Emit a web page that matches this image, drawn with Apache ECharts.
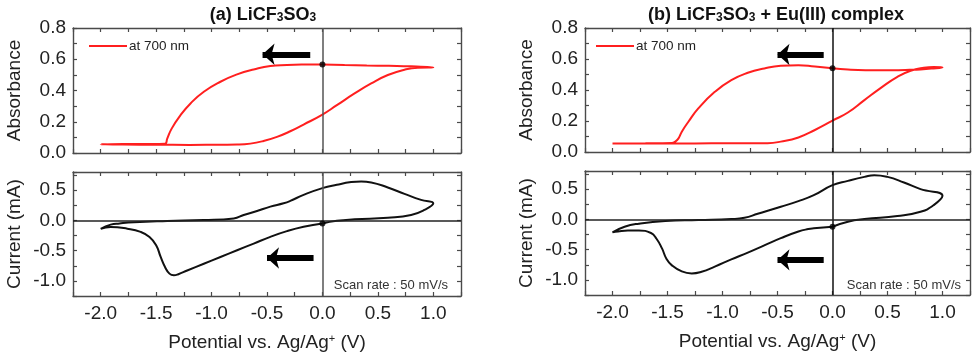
<!DOCTYPE html>
<html>
<head>
<meta charset="utf-8">
<script src="https://cdn.jsdelivr.net/npm/echarts@6.0.0/dist/echarts.min.js"></script>
<style>
  html, body { margin: 0; padding: 0; background: #fff; }
  #chart { width: 976px; height: 355px; }
</style>
</head>
<body>
<div id="chart"></div>
<script>
// (a) LiCF3SO3 - absorbance at 700 nm, scan starts at 0 V going negative
const potAbsA = [0, -0.17, -0.32, -0.47, -0.62, -0.77, -0.92, -1.07, -1.19, -1.28, -1.36, -1.40, -1.42, -1.6, -1.8, -2.0,
  -1.8, -1.5, -1.2, -0.9, -0.77, -0.65, -0.53, -0.41, -0.29, -0.17, 0, 0.13, 0.29, 0.44, 0.59, 0.74, 0.86, 1.0,
  0.8, 0.6, 0.4, 0.2, 0]
const absA = [0.567, 0.566, 0.563, 0.557, 0.535, 0.503, 0.456, 0.392, 0.317, 0.242, 0.156, 0.092, 0.060, 0.058, 0.057, 0.056,
  0.054, 0.053, 0.052, 0.053, 0.054, 0.060, 0.077, 0.103, 0.139, 0.182, 0.246, 0.306, 0.381, 0.445, 0.499, 0.533, 0.546, 0.548,
  0.555, 0.558, 0.560, 0.563, 0.567]

// (a) current
const potCurA = [0, -0.17, -0.32, -0.47, -0.62, -0.77, -0.92, -1.07, -1.22, -1.30, -1.34, -1.38, -1.42, -1.46, -1.50, -1.56, -1.64, -1.76, -1.91, -2.0,
  -1.91, -1.83, -1.7, -1.4, -1.07, -0.8, -0.71, -0.59, -0.47, -0.35, -0.29, -0.17, 0, 0.13, 0.26, 0.35, 0.44, 0.59, 0.74, 0.89, 1.0,
  0.92, 0.80, 0.59, 0.29, 0.13, 0]
const curA = [-0.05, -0.106, -0.178, -0.272, -0.383, -0.494, -0.606, -0.717, -0.828, -0.89, -0.907, -0.88, -0.77, -0.60, -0.41, -0.275, -0.19, -0.137, -0.11, -0.139,
  -0.07, -0.05, -0.03, -0.01, 0.005, 0.033, 0.089, 0.156, 0.228, 0.283, 0.322, 0.422, 0.533, 0.589, 0.633, 0.644, 0.628, 0.544, 0.439, 0.339, 0.283,
  0.172, 0.089, 0.044, 0.017, -0.006, -0.05]

// (b) LiCF3SO3 + Eu(III) complex - absorbance
const potAbsB = [0, -0.16, -0.31, -0.47, -0.62, -0.77, -0.92, -1.07, -1.22, -1.31, -1.37, -1.40, -1.43, -1.46, -1.7, -2.0,
  -1.7, -1.4, -1.1, -0.8, -0.59, -0.47, -0.31, -0.16, 0, 0.14, 0.29, 0.44, 0.59, 0.71, 0.83, 0.92, 1.0,
  0.9, 0.8, 0.7, 0.6, 0.45, 0.3, 0.14, 0]
const absB = [0.541, 0.551, 0.560, 0.556, 0.539, 0.511, 0.464, 0.388, 0.281, 0.195, 0.131, 0.088, 0.067, 0.058, 0.056, 0.055,
  0.055, 0.055, 0.056, 0.056, 0.057, 0.067, 0.094, 0.142, 0.202, 0.255, 0.335, 0.414, 0.485, 0.524, 0.543, 0.548, 0.545,
  0.538, 0.533, 0.530, 0.528, 0.528, 0.528, 0.532, 0.541]

// (b) current
const potCurB = [0, -0.17, -0.22, -0.31, -0.47, -0.62, -0.77, -0.92, -1.07, -1.19, -1.28, -1.37, -1.46, -1.51, -1.55, -1.60, -1.65, -1.76, -1.86, -1.95, -2.0,
  -1.89, -1.76, -1.52, -1.22, -0.92, -0.8, -0.68, -0.47, -0.31, -0.17, 0, 0.14, 0.29, 0.38, 0.5, 0.65, 0.8, 1.0,
  0.92, 0.8, 0.59, 0.29, 0.14, 0]
const curB = [-0.121, -0.148, -0.16, -0.2, -0.31, -0.43, -0.55, -0.66, -0.78, -0.865, -0.893, -0.86, -0.76, -0.65, -0.48, -0.32, -0.225, -0.185, -0.185, -0.2, -0.214,
  -0.121, -0.071, -0.027, -0.011, 0.005, 0.027, 0.093, 0.209, 0.302, 0.401, 0.566, 0.637, 0.703, 0.731, 0.703, 0.61, 0.5, 0.39,
  0.236, 0.126, 0.055, 0.005, -0.038, -0.121]

// scan direction arrows [x start, x end, y]
const arrowAbsA = [-0.11, -0.54, 0.632]
const arrowCurA = [-0.08, -0.50, -0.622]
const arrowAbsB = [-0.08, -0.50, 0.629]
const arrowCurB = [-0.08, -0.50, -0.67]

const FONT = "'Liberation Sans', Arial, sans-serif"
const frameColor = '#4a4a4a'

function stepFormatter(step) {
  return function (v) {
    if (Math.abs(v / step - Math.round(v / step)) > 1e-6) return ''
    if (Math.abs(v) < 1e-9) return '0.0'
    return v.toFixed(1)
  }
}

const grids = [
  { left: 73, top: 28, width: 388, height: 125 },
  { left: 73, top: 172, width: 388, height: 124 },
  { left: 585, top: 28, width: 385, height: 124 },
  { left: 585, top: 171, width: 385, height: 124 }
]

const xAxes = []
const yAxes = []
grids.forEach((g, i) => {
  const isCurrent = i % 2 === 1
  const common = {
    gridIndex: i,
    type: 'value',
    axisLine: { onZero: false, lineStyle: { color: frameColor, width: 1.4 } },
    axisTick: { inside: true, length: 4, lineStyle: { color: frameColor, width: 1.2 } },
    splitLine: { show: false }
  }
  const xc = Object.assign({}, common, { min: -2.25, max: 1.25, interval: 0.25 })
  xAxes.push(Object.assign({}, xc, {
    position: 'bottom',
    axisLabel: {
      show: isCurrent, margin: 8, fontSize: 19, fontFamily: FONT, color: '#222',
      formatter: stepFormatter(0.5)
    },
    name: isCurrent ? 'Potential vs. Ag/Ag{sup|+} (V)' : '',
    nameLocation: 'middle',
    nameGap: 37,
    nameTextStyle: {
      fontSize: 19, fontFamily: FONT, color: '#222',
      rich: { sup: { fontSize: 11, fontFamily: FONT, color: '#222', verticalAlign: 'top', lineHeight: 10 } }
    }
  }))
  xAxes.push(Object.assign({}, xc, { position: 'top', axisLabel: { show: false } }))

  const yc = Object.assign({}, common, isCurrent
    ? { min: -1.25, max: 0.8, interval: 0.25 }
    : { min: 0, max: 0.8, interval: 0.1 })
  yAxes.push(Object.assign({}, yc, {
    position: 'left',
    axisLabel: {
      margin: 7, fontSize: 19, fontFamily: FONT, color: '#222',
      formatter: stepFormatter(isCurrent ? 0.5 : 0.2)
    },
    name: isCurrent ? 'Current (mA)' : 'Absorbance',
    nameLocation: 'middle',
    nameGap: 49,
    nameTextStyle: { fontSize: 19, fontFamily: FONT, color: '#222' }
  }))
  yAxes.push(Object.assign({}, yc, { position: 'right', axisLabel: { show: false } }))
})

function zip(xs, ys) {
  return xs.map((x, i) => [x, ys[i]])
}

function arrowLine(a) {
  return [
    { coord: [a[0], a[2]], symbol: 'none', lineStyle: { color: '#000', width: 6, type: 'solid' } },
    { coord: [a[1], a[2]], symbol: 'arrow', symbolSize: [16, 12] }
  ]
}

function curveSeries(gi, name, xs, ys, color, arrow, vColor, withZero) {
  const data = [
    { xAxis: 0, lineStyle: { color: vColor, width: 1.5, type: 'solid' } }
  ]
  if (withZero) data.push({ yAxis: 0, lineStyle: { color: '#222', width: 1.5, type: 'solid' } })
  data.push(arrowLine(arrow))
  return [{
    name: name,
    type: 'line',
    xAxisIndex: gi * 2,
    yAxisIndex: gi * 2,
    data: zip(xs, ys),
    showSymbol: false,
    smooth: 0.5,
    lineStyle: { color: color, width: 2 },
    itemStyle: { color: color },
    z: 3,
    markLine: {
      silent: true,
      symbol: 'none',
      animation: false,
      label: { show: false },
      data: data
    }
  }, {
    type: 'scatter',
    xAxisIndex: gi * 2,
    yAxisIndex: gi * 2,
    data: [[xs[0], ys[0]]],
    symbolSize: 6,
    itemStyle: { color: '#000' },
    z: 5
  }]
}

const series = [].concat(
  curveSeries(0, 'at 700 nm', potAbsA, absA, '#ff1f1f', arrowAbsA, '#555', false),
  curveSeries(1, 'CV a', potCurA, curA, '#111', arrowCurA, '#555', true),
  curveSeries(2, 'at 700 nm', potAbsB, absB, '#ff1f1f', arrowAbsB, '#111', false),
  curveSeries(3, 'CV b', potCurB, curB, '#111', arrowCurB, '#111', true)
)

function legendAt(left) {
  return {
    data: [{ name: 'at 700 nm', icon: 'rect' }],
    left: left,
    top: 34,
    itemWidth: 38,
    itemHeight: 2,
    selectedMode: false,
    textStyle: { fontSize: 13.5, fontFamily: FONT, color: '#222', padding: [0, 0, 0, -3] }
  }
}

function titleText(x, text) {
  return {
    type: 'text',
    x: x,
    y: 14,
    style: {
      text: text,
      align: 'center',
      verticalAlign: 'middle',
      rich: {
        b: { fontSize: 18, fontWeight: 'bold', fontFamily: FONT, fill: '#111', lineHeight: 20, verticalAlign: 'bottom' },
        s: { fontSize: 12, fontWeight: 'bold', fontFamily: FONT, fill: '#111', lineHeight: 12, verticalAlign: 'bottom' }
      }
    }
  }
}

function scanText(x) {
  return {
    type: 'text',
    x: x,
    y: 285,
    style: {
      text: 'Scan rate : 50 mV/s',
      align: 'right',
      verticalAlign: 'middle',
      fontSize: 13,
      fontFamily: FONT,
      fill: '#333'
    }
  }
}

const chart = echarts.init(document.getElementById('chart'))
chart.setOption({
  backgroundColor: '#fff',
  animation: false,
  grid: grids,
  xAxis: xAxes,
  yAxis: yAxes,
  legend: [legendAt(84), legendAt(591)],
  graphic: [
    titleText(263, '{b|(a) LiCF}{s|3}{b|SO}{s|3}'),
    titleText(776, '{b|(b) LiCF}{s|3}{b|SO}{s|3}{b| + Eu(III) complex}'),
    scanText(448),
    scanText(961)
  ],
  series: series
})
</script>
</body>
</html>
